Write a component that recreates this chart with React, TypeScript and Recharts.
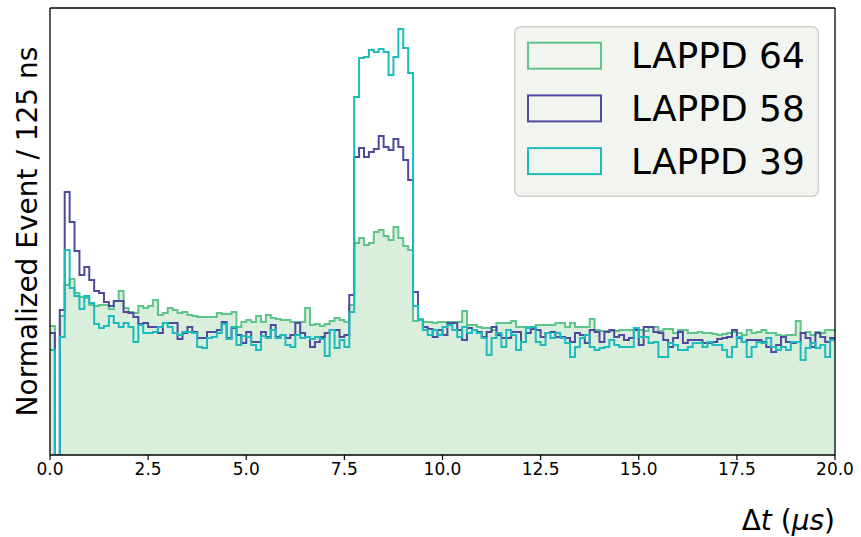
import React from 'react';
import { ComposedChart, Area, Line, XAxis, YAxis, ReferenceLine, Legend, Label } from 'recharts';

// bin width 125 ns = 0.125 µs, 160 bins over 0..20 µs
const binWidth = 0.125;

// normalized events per bin (arbitrary units)
const lappd64 = [
  129, 0, 139, 170, 176, 162, 158, 157, 150, 149,
  150, 150, 146, 154, 164, 147, 143, 142, 149, 147,
  149, 155, 140, 142, 147, 145, 142, 143, 140, 139,
  138, 138, 138, 138, 142, 141, 141, 143, 128, 133,
  135, 133, 139, 133, 140, 137, 136, 135, 135, 133,
  133, 133, 147, 130, 131, 129, 131, 134, 137, 135,
  133, 150, 212, 217, 210, 212, 223, 225, 219, 215,
  228, 217, 209, 205, 134, 136, 133, 133, 132, 133,
  133, 133, 133, 133, 144, 130, 130, 128, 127, 127,
  125, 132, 132, 132, 134, 128, 128, 128, 128, 130,
  130, 130, 130, 132, 132, 128, 132, 128, 128, 128,
  136, 125, 124, 124, 124, 124, 125, 125, 125, 127,
  125, 124, 128, 128, 124, 126, 126, 122, 125, 125,
  122, 122, 123, 122, 122, 121, 120, 121, 122, 123,
  122, 120, 125, 122, 123, 125, 122, 122, 120, 119,
  120, 120, 134, 122, 123, 120, 123, 122, 125, 125,
];

const lappd58 = [
  122, 0, 145, 263, 233, 204, 180, 188, 175, 164,
  162, 153, 149, 154, 154, 143, 142, 138, 131, 132,
  128, 128, 122, 132, 132, 132, 116, 122, 128, 123,
  117, 117, 123, 123, 125, 133, 117, 127, 120, 112,
  123, 113, 113, 123, 118, 130, 118, 120, 117, 120,
  132, 122, 118, 108, 113, 118, 122, 125, 125, 118,
  120, 160, 298, 307, 298, 303, 306, 319, 308, 305,
  316, 308, 295, 275, 163, 135, 128, 126, 118, 125,
  120, 132, 132, 125, 115, 127, 125, 123, 118, 123,
  128, 120, 117, 117, 123, 123, 113, 122, 126, 125,
  118, 122, 123, 118, 118, 117, 113, 122, 120, 112,
  125, 123, 113, 123, 125, 118, 120, 115, 117, 125,
  110, 128, 128, 123, 122, 115, 108, 117, 123, 112,
  115, 115, 115, 112, 112, 113, 116, 117, 118, 125,
  117, 113, 115, 115, 115, 113, 108, 103, 110, 118,
  113, 112, 113, 122, 117, 108, 122, 118, 113, 117,
];

const lappd39 = [
  105, 0, 118, 205, 167, 159, 146, 159, 152, 131,
  127, 129, 139, 132, 128, 132, 128, 113, 130, 122,
  122, 123, 128, 132, 128, 122, 120, 123, 123, 122,
  108, 107, 117, 118, 122, 131, 116, 128, 110, 119,
  118, 110, 105, 119, 117, 125, 117, 120, 110, 108,
  120, 117, 118, 116, 118, 116, 99, 125, 107, 115,
  108, 143, 358, 397, 398, 405, 403, 406, 403, 380,
  398, 426, 407, 382, 149, 135, 125, 120, 125, 120,
  128, 130, 125, 118, 128, 122, 125, 122, 117, 100,
  117, 122, 108, 125, 120, 105, 113, 127, 128, 113,
  110, 122, 117, 122, 117, 112, 98, 108, 117, 120,
  108, 105, 107, 108, 115, 110, 108, 108, 108, 127,
  118, 118, 112, 113, 98, 98, 112, 110, 105, 105,
  108, 112, 112, 108, 113, 110, 110, 105, 98, 108,
  118, 113, 98, 108, 113, 112, 117, 108, 105, 108,
  105, 113, 113, 95, 107, 112, 107, 110, 98, 115,
];

const seriesNames = ['LAPPD 64', 'LAPPD 58', 'LAPPD 39'];
const xTicks = [0, 2.5, 5, 7.5, 10, 12.5, 15, 17.5, 20];
const xDomain = [0, 20];
const yMax = 447;

const GREEN = '#5ec48a';
const PURPLE = '#4f4a9e';
const TEAL = '#1dbcbc';
const FILL = '#d9efdb';
const FONT = 'DejaVu Sans';

const rows = lappd64.map((g, i) => ({
  x: i * binWidth,
  g,
  p: lappd58[i],
  t: lappd39[i],
}));
rows.push({
  x: lappd64.length * binWidth,
  g: lappd64[lappd64.length - 1],
  p: lappd58[lappd58.length - 1],
  t: lappd39[lappd39.length - 1],
});

const legendItems = [
  { name: seriesNames[0], color: GREEN },
  { name: seriesNames[1], color: PURPLE },
  { name: seriesNames[2], color: TEAL },
];

const LegendBox = () => (
  <svg width={305} height={171} style={{ display: 'block' }}>
    <rect x={0.75} y={0.75} width={303.5} height={169.5} rx={6} fill="#f2f4f0" stroke="#cfd1cc" strokeWidth={1.5} />
    {legendItems.map((it, k) => (
      <g key={k}>
        <rect x={14} y={16.7 + k * 52.7} width={73} height={26} fill="none" stroke={it.color} strokeWidth={2} />
        <text x={117} y={42.3 + k * 52.7} fontSize={36} fontFamily={FONT} fill="#000">
          {it.name}
        </text>
      </g>
    ))}
  </svg>
);

const YLabel = (props: any) => {
  const vb = props.viewBox || { x: 8, y: 8, width: 42, height: 447 };
  const cx = vb.x + 29;
  const cy = vb.y + vb.height / 2;
  return (
    <text
      x={cx}
      y={cy}
      transform={`rotate(-90, ${cx}, ${cy})`}
      textAnchor="middle"
      fontSize={28}
      fontFamily={FONT}
      fill="#000"
    >
      Normalized Event / 125 ns
    </text>
  );
};

const XLabel = (props: any) => {
  const vb = props.viewBox || { x: 50, y: 455, width: 785, height: 82 };
  return (
    <text x={vb.x + vb.width} y={vb.y + 75} textAnchor="end" fontSize={28} fontFamily={FONT} fill="#000">
      <tspan>Δ</tspan>
      <tspan fontStyle="italic">t</tspan>
      <tspan> (</tspan>
      <tspan fontStyle="italic">μs</tspan>
      <tspan>)</tspan>
    </text>
  );
};

export default function App() {
  return (
    <div style={{ position: 'absolute', left: 0, top: 0, width: 861, height: 537, background: '#fff' }}>
      <ComposedChart width={861} height={537} data={rows} margin={{ top: 8, right: 26, bottom: 0, left: 8 }}>
        <XAxis
          dataKey="x"
          type="number"
          domain={xDomain}
          ticks={xTicks}
          allowDataOverflow
          height={82}
          tickFormatter={(v: number) => v.toFixed(1)}
          tick={{ fontSize: 17, fill: '#000', fontFamily: FONT }}
          tickSize={5}
          tickMargin={3}
          tickLine={{ stroke: '#000', strokeWidth: 1.2 }}
          axisLine={{ stroke: '#000', strokeWidth: 1.3 }}
        >
          <Label content={XLabel} />
        </XAxis>
        <YAxis
          type="number"
          domain={[0, yMax]}
          allowDataOverflow
          width={42}
          tick={false}
          tickLine={false}
          axisLine={{ stroke: '#000', strokeWidth: 1.3 }}
        >
          <Label content={YLabel} />
        </YAxis>
        <Area
          type="stepAfter"
          dataKey="g"
          stroke={GREEN}
          strokeWidth={2}
          fill={FILL}
          fillOpacity={1}
          isAnimationActive={false}
          dot={false}
          activeDot={false}
        />
        <Line
          type="stepAfter"
          dataKey="p"
          stroke={PURPLE}
          strokeWidth={2}
          dot={false}
          activeDot={false}
          isAnimationActive={false}
        />
        <Line
          type="stepAfter"
          dataKey="t"
          stroke={TEAL}
          strokeWidth={2}
          dot={false}
          activeDot={false}
          isAnimationActive={false}
        />
        <ReferenceLine x={20} stroke="#000" strokeWidth={1.3} />
        <ReferenceLine y={yMax} stroke="#000" strokeWidth={1.3} />
        <Legend
          layout="vertical"
          align="center"
          verticalAlign="middle"
          content={LegendBox}
          wrapperStyle={{ left: 514, top: 26, width: 305, height: 171 }}
        />
      </ComposedChart>
    </div>
  );
}
